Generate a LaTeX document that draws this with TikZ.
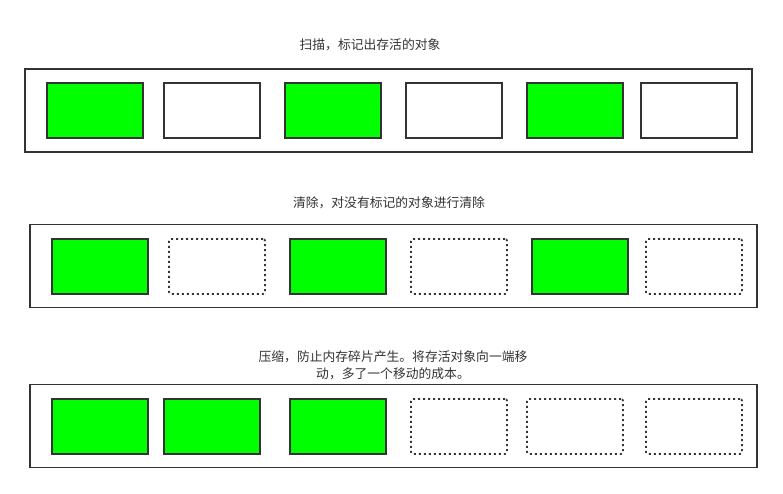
\documentclass[tikz,border=0pt]{standalone}
\usepackage{fontspec}
\newfontfamily\cjk{Noto Sans CJK SC}
\usetikzlibrary{positioning}
\definecolor{edgegray}{HTML}{333333}
\definecolor{objgreen}{HTML}{00FF00}

\begin{document}
\begin{tikzpicture}[x=1pt,y=-1pt,
  heap/.style={draw=edgegray, line width=1.9pt, minimum width=727pt, minimum height=83pt, inner sep=0pt},
  obj/.style={line width=1.9pt, minimum width=96pt, minimum height=55pt, inner sep=0pt},
  liveobj/.style={obj, draw=edgegray, fill=objgreen},
  markobj/.style={obj, draw=edgegray, fill=white},
  freeobj/.style={obj, draw=edgegray, dash pattern=on 2pt off 3pt, rounded corners=2pt},
  title/.style={text=edgegray, font=\cjk\fontsize{12.8}{17}\selectfont, align=center}]
\useasboundingbox (0,0) rectangle (783,493);

% Mark
\node[title] (t1) at (370,45) {扫描，标记出存活的对象};
\node[heap] (h1) at (388.5,110.5) {};
\node[liveobj] (a1) at (95,110.5) {};  \node[markobj] (a2) at (212,110.5) {};
\node[liveobj] (a3) at (333,110.5) {}; \node[markobj] (a4) at (454,110.5) {};
\node[liveobj] (a5) at (575,110.5) {}; \node[markobj] (a6) at (689,110.5) {};

% Sweep
\node[title] (t2) at (389,203) {清除，对没有标记的对象进行清除};
\node[heap] (h2) at (393.5,266) {};
\node[liveobj] (b1) at (100,266.5) {}; \node[freeobj] (b2) at (217,266.5) {};
\node[liveobj] (b3) at (338,266.5) {}; \node[freeobj] (b4) at (459,266.5) {};
\node[liveobj] (b5) at (580,266.5) {}; \node[freeobj] (b6) at (694,266.5) {};

% Compact
\node[title] (t3) at (393,365.5) {压缩，防止内存碎片产生。将存活对象向一端移\\动，多了一个移动的成本。};
\node[heap] (h3) at (393.5,426) {};
\node[liveobj] (c1) at (100,426.5) {}; \node[liveobj] (c2) at (212,426.5) {};
\node[liveobj] (c3) at (338,426.5) {}; \node[freeobj] (c4) at (459,426.5) {};
\node[freeobj] (c5) at (575,426.5) {}; \node[freeobj] (c6) at (694,426.5) {};
\end{tikzpicture}
\end{document}
